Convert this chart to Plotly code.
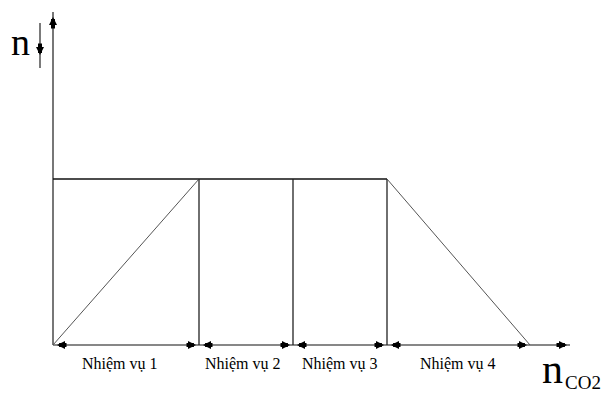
import plotly.graph_objects as go

# ---- data (arbitrary units: x = amount of CO2, y = amount n) ----
boundaries = [0, 146, 240, 334, 477]      # x where each task starts / ends
plateau = 166                              # n at the flat level
x_axis_end = 517
y_axis_end = 333
task_labels = ["Nhiệm vụ 1", "Nhiệm vụ 2", "Nhiệm vụ 3", "Nhiệm vụ 4"]
label_x = [67, 190, 287, 405]
y_label = "n"
x_label_main = "n"
x_label_sub = "CO2"

fig = go.Figure()

def seg(x0, y0, x1, y1, color="#000000", width=1.2):
    fig.add_trace(go.Scatter(x=[x0, x1], y=[y0, y1], mode="lines",
                             line=dict(color=color, width=width),
                             hoverinfo="skip", showlegend=False))

b = boundaries
# axes
seg(0, 0, 0, y_axis_end, "#555555", 1.6)
seg(0, 0, x_axis_end, 0, "#111111", 1.2)
# plateau
seg(b[0], plateau, b[3], plateau, "#111111", 1.5)
# rising diagonal (task 1)
seg(b[0], 0, b[1], plateau, "#555555", 1.0)
# verticals
for xv in b[1:4]:
    seg(xv, 0, xv, plateau, "#222222", 1.3)
# falling diagonal (task 4)
seg(b[3], plateau, b[4], 0, "#555555", 1.0)
# small n arrow next to the y label
seg(-13, 277, -13, 322, "#222222", 1.2)

def arrow(tip_x, tip_y, tail_x, tail_y):
    fig.add_annotation(x=tip_x, y=tip_y, ax=tail_x, ay=tail_y,
                       xref="x", yref="y", axref="x", ayref="y",
                       text="", showarrow=True, arrowhead=2, arrowsize=0.4,
                       arrowwidth=4, arrowcolor="#000000", standoff=0)

# dimension arrows under each task
for i in range(4):
    left, right = b[i], b[i + 1]
    arrow(left + 4, 0, left + 15, 0)
    arrow(right - 3, 0, right - 14, 0)
# axis arrows
arrow(x_axis_end - 3, 0, x_axis_end - 15, 0)
arrow(0, y_axis_end - 5, 0, y_axis_end - 18)
arrow(-13, 290, -13, 303)

serif = "Liberation Serif, Times New Roman, serif"
for lab, lx in zip(task_labels, label_x):
    fig.add_annotation(x=lx, y=-18, text=lab, showarrow=False,
                       font=dict(family=serif, size=16, color="#000000"),
                       xanchor="center", yanchor="middle")

fig.add_annotation(x=-33, y=303, text=y_label, showarrow=False,
                   font=dict(family=serif, size=38, color="#000000"),
                   xanchor="center", yanchor="middle")
fig.add_annotation(x=499, y=-24, text=x_label_main, showarrow=False,
                   font=dict(family=serif, size=42, color="#000000"),
                   xanchor="center", yanchor="middle", borderpad=0)
fig.add_annotation(x=511, y=-37, text=x_label_sub, showarrow=False,
                   font=dict(family=serif, size=19, color="#000000"),
                   xanchor="left", yanchor="middle", borderpad=0)

# the page body adds an 8px offset; figure sized to the visible area
fig.update_layout(
    width=606, height=386,
    margin=dict(l=0, r=0, t=0, b=0),
    paper_bgcolor="white", plot_bgcolor="white",
    xaxis=dict(range=[-45, 561], visible=False, fixedrange=True),
    yaxis=dict(range=[-49, 337], visible=False, fixedrange=True),
    showlegend=False,
)

fig.write_html("out.html")
